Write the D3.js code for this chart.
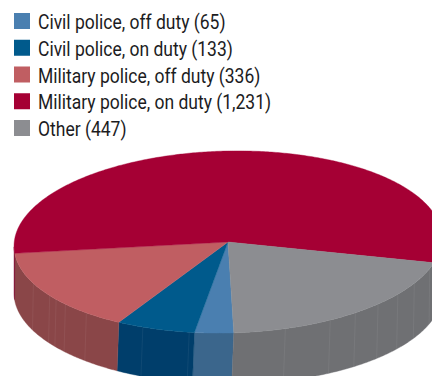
<!DOCTYPE html>
<html>
<head>
<meta charset="utf-8">
<script src="https://cdn.jsdelivr.net/npm/d3@7"></script>
<style>
html,body{margin:0;padding:0;background:#fff}
svg{display:block}
text{font-family:"Roboto",sans-serif;fill:#1c1c1e}
</style>
</head>
<body>
<svg id="chart" width="432" height="376"></svg>
<script>
// Deaths by category
const categories = ["Civil police, off duty", "Civil police, on duty", "Military police, off duty", "Military police, on duty", "Other"];
const counts = [65, 133, 336, 1231, 447];
const topColors = ["#4a7fb0", "#005a8c", "#c05e62", "#a50034", "#8c8d91"];
const sideColors = ["#3b668c", "#003e6b", "#8a4648", "#7a0028", "#6f7073"];
// Angles (degrees clockwise from the back of the disc) of the moulding seams on the rim
const seamAngles = [110, 120, 128, 136, 144, 152, 165, 191, 204, 222, 230, 234, 237, 246];

const svg = d3.select("#chart");
const fmt = d3.format(",");

// Legend
const legendY = d3.scalePoint().domain(categories).range([21, 128]);
const legend = svg.append("g").selectAll("g").data(categories).join("g")
  .attr("transform", d => `translate(0,${legendY(d)})`);
legend.append("rect").attr("x", 14).attr("y", -8).attr("width", 16).attr("height", 16)
  .attr("fill", (d, i) => topColors[i]);
legend.append("text").attr("transform", "translate(38,8) scale(0.875,1)").attr("font-size", 20)
  .text((d, i) => `${d} (${fmt(counts[i])})`);

// Disc projection: the top face has a slight tilt, the lower rim edge does not
const cx = 228, cy = 242, rx = 214, ry = 91, depth = 51;
const tilt = -1.3 * Math.PI / 180;
const topPoint = a => {
  const x = rx * Math.sin(a), y = -ry * Math.cos(a);
  return [cx + x * Math.cos(tilt) - y * Math.sin(tilt), cy + x * Math.sin(tilt) + y * Math.cos(tilt)];
};
const bottomPoint = a => [cx + rx * Math.sin(a), cy + depth - ry * Math.cos(a)];
const line = d3.line();
const arcAngles = (a0, a1) => {
  const n = Math.max(2, Math.ceil(Math.abs(a1 - a0) / 0.01));
  return d3.range(n + 1).map(i => a0 + (a1 - a0) * i / n);
};

const rad = d => d * Math.PI / 180;
const slices = d3.pie().sort(null).startAngle(rad(179)).endAngle(rad(179 + 360))(counts);

// Rim: only the front half (90° to 270°) faces the viewer
const rim = svg.append("g");
slices.forEach(s => {
  [[s.startAngle, s.endAngle], [s.startAngle - 2 * Math.PI, s.endAngle - 2 * Math.PI]].forEach(([a0, a1]) => {
    const lo = Math.max(a0, rad(90)), hi = Math.min(a1, rad(270));
    if (hi <= lo) return;
    const as = arcAngles(lo, hi);
    rim.append("path")
      .attr("d", line(as.map(topPoint).concat(as.slice().reverse().map(bottomPoint))) + "Z")
      .attr("fill", sideColors[s.index])
      .attr("stroke", sideColors[s.index]).attr("stroke-width", 0.4);
  });
});
rim.selectAll("path.seam").data(seamAngles).join("path").attr("class", "seam")
  .attr("d", d => line([topPoint(rad(d)), bottomPoint(rad(d))]))
  .attr("stroke", "#fff").attr("stroke-opacity", 0.06).attr("stroke-width", 1).attr("fill", "none");

// Top face
svg.append("g").selectAll("path").data(slices).join("path")
  .attr("d", s => line([[cx, cy]].concat(arcAngles(s.startAngle, s.endAngle).map(topPoint))) + "Z")
  .attr("fill", s => topColors[s.index])
  .attr("stroke", s => topColors[s.index]).attr("stroke-width", 0.4);
</script>
</body>
</html>
